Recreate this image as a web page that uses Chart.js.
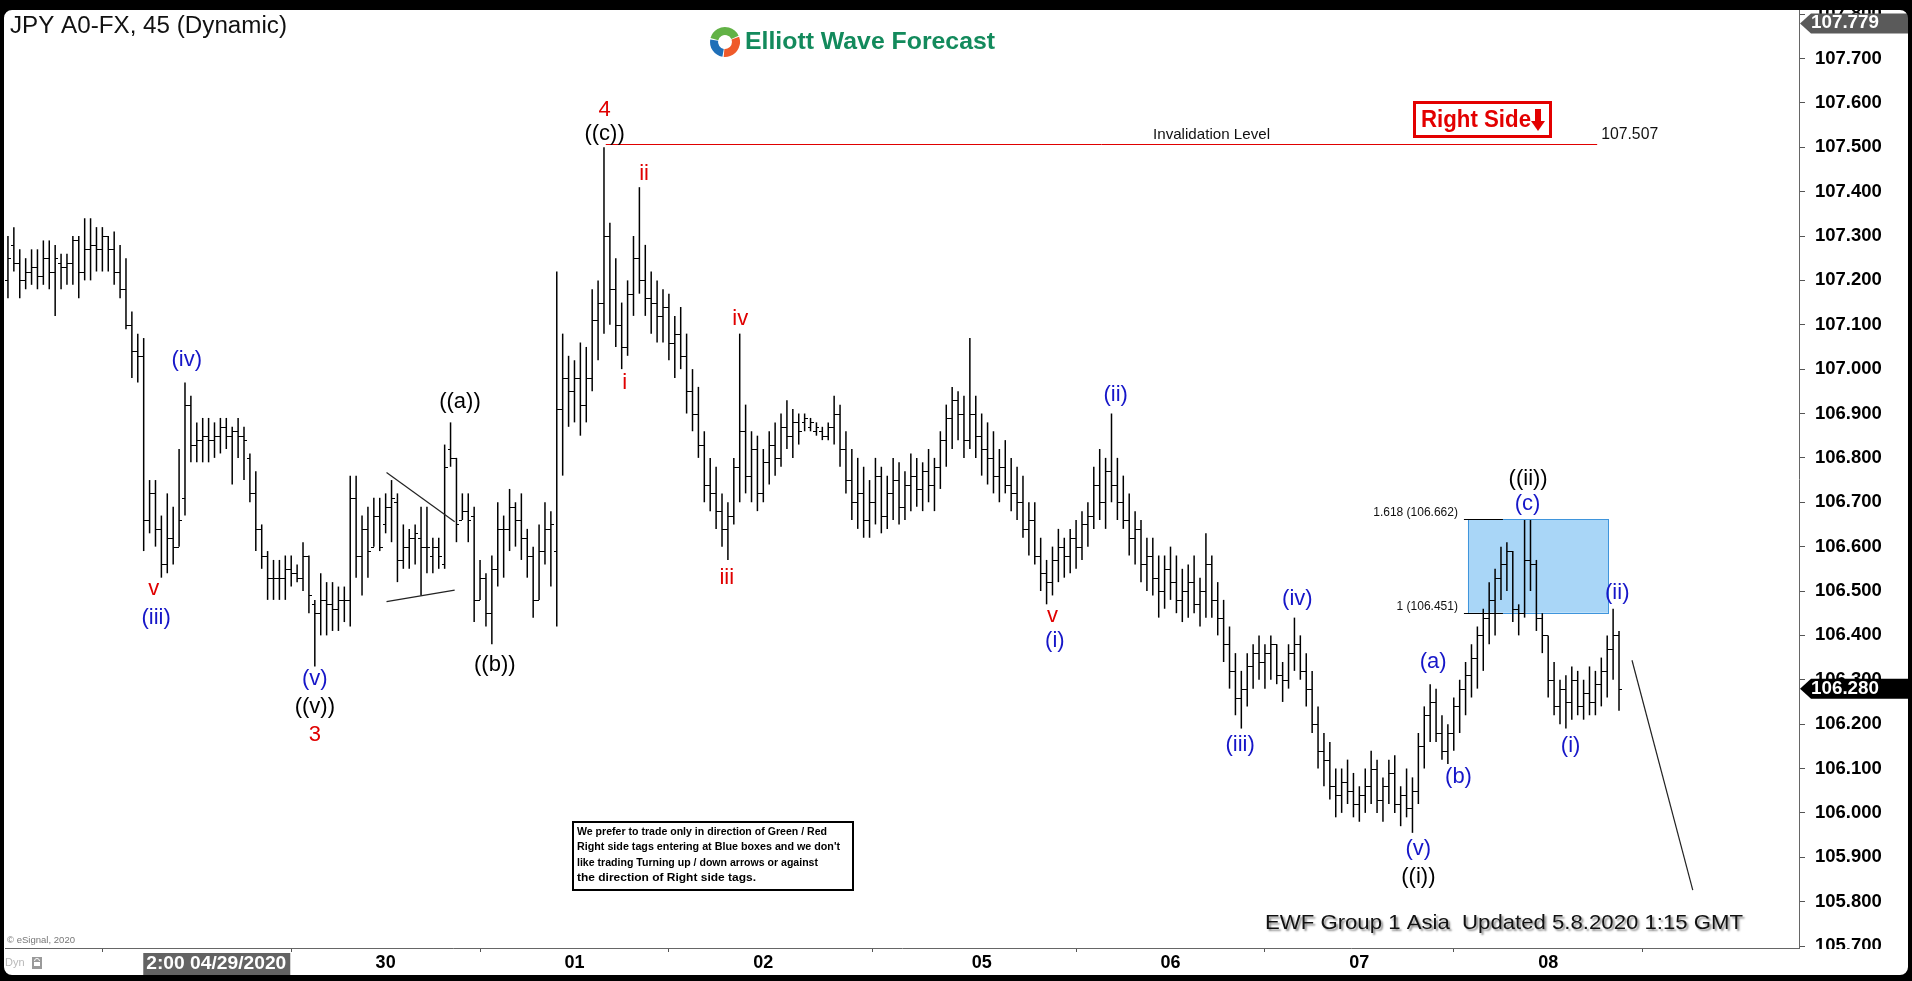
<!DOCTYPE html>
<html>
<head>
<meta charset="utf-8">
<script src="https://cdn.jsdelivr.net/npm/chart.js@4.4.1/dist/chart.umd.min.js"></script>
<style>
html,body{margin:0;padding:0;background:#000;overflow:hidden;}
canvas{display:block;}
</style>
</head>
<body>
<canvas id="c" width="1912" height="981" style="width:1912px;height:981px"></canvas>
<script>
// ---------------- DATA ----------------
const opens = [
107.20,107.28,107.24,107.20,107.22,107.23,107.21,107.25,107.22,107.24,
107.23,107.24,107.29,107.22,107.27,107.28,107.27,107.30,107.27,107.22,
107.18,107.10,107.04,107.03,106.66,106.72,106.64,106.56,106.62,106.60,
106.71,106.92,106.83,106.84,106.85,106.84,106.85,106.87,106.85,106.86,
106.85,106.80,106.72,106.64,106.58,106.53,106.53,106.53,106.55,106.54,
106.53,106.58,106.47,106.45,106.48,106.47,106.46,106.48,106.48,106.71,
106.58,106.64,106.60,106.67,106.65,106.69,106.70,106.57,106.60,106.62,
106.62,106.60,106.58,106.60,106.56,106.82,106.80,106.66,106.68,106.67,
106.48,106.53,106.45,106.55,106.64,106.64,106.69,106.66,106.62,106.58,
106.48,106.59,106.64,106.59,106.91,106.98,106.95,106.98,106.92,106.98,
107.11,107.15,107.30,107.18,107.10,107.05,107.17,107.25,107.20,107.16,
107.15,107.12,107.14,107.06,107.08,107.03,106.95,106.90,106.83,106.74,
106.72,106.68,106.64,106.67,106.78,106.86,106.76,106.82,106.72,106.79,
106.83,106.80,106.87,106.85,106.88,106.88,106.87,106.86,106.86,106.85,
106.87,106.90,106.82,106.75,106.70,106.72,106.66,106.70,106.76,106.67,
106.72,106.75,106.69,106.74,106.76,106.73,106.77,106.74,106.78,106.84,
106.89,106.93,106.90,106.84,106.90,106.85,106.82,106.80,106.76,106.78,
106.74,106.72,106.70,106.64,106.66,106.58,106.54,106.52,106.57,106.60,
106.58,106.62,106.60,106.65,106.67,106.74,106.70,106.77,106.74,106.70,
106.66,106.62,106.64,106.56,106.58,106.53,106.50,106.55,106.52,106.48,
106.50,106.52,106.47,106.50,106.56,106.48,106.44,106.38,106.32,106.26,
106.28,106.33,106.36,106.34,106.36,106.38,106.31,106.30,106.36,106.38,
106.32,106.28,106.20,106.14,106.12,106.06,106.04,106.07,106.05,106.02,
106.04,106.06,106.10,106.03,106.06,106.09,106.02,106.04,106.01,106.05,
106.15,106.22,106.25,106.18,106.14,106.18,106.24,106.28,106.31,106.35,
106.40,106.44,106.48,106.53,106.56,106.59,106.46,106.45,106.57,106.56,
106.44,106.40,106.30,106.24,106.28,106.25,106.30,106.24,106.27,106.25,
106.29,106.32,106.37,106.40];
const highs = [
107.30,107.32,107.27,107.25,107.27,107.27,107.29,107.29,107.28,107.26,
107.26,107.30,107.30,107.34,107.34,107.32,107.32,107.30,107.31,107.28,
107.25,107.13,107.08,107.07,106.75,106.75,106.67,106.72,106.69,106.82,
106.97,106.94,106.88,106.89,106.89,106.88,106.89,106.89,106.87,106.89,
106.87,106.81,106.77,106.65,106.59,106.57,106.57,106.58,106.58,106.56,
106.61,106.58,106.48,106.54,106.52,106.52,106.51,106.51,106.76,106.76,
106.67,106.69,106.71,106.71,106.72,106.75,106.72,106.65,106.64,106.65,
106.69,106.69,106.62,106.62,106.83,106.88,106.80,106.72,106.72,106.69,
106.57,106.54,106.58,106.70,106.67,106.73,106.70,106.72,106.64,106.60,
106.65,106.70,106.68,107.22,107.08,107.03,107.02,107.06,107.05,107.18,
107.20,107.50,107.33,107.25,107.15,107.20,107.30,107.41,107.28,107.22,
107.20,107.18,107.17,107.12,107.14,107.08,107.00,106.96,106.86,106.80,
106.78,106.72,106.70,106.80,107.08,106.92,106.86,106.85,106.82,106.86,
106.88,106.90,106.93,106.91,106.90,106.90,106.89,106.88,106.87,106.88,
106.94,106.92,106.86,106.82,106.80,106.78,106.75,106.80,106.78,106.76,
106.80,106.79,106.77,106.81,106.80,106.79,106.82,106.80,106.86,106.92,
106.96,106.95,106.94,107.07,106.94,106.90,106.88,106.86,106.82,106.84,
106.80,106.78,106.76,106.70,106.70,106.62,106.57,106.60,106.64,106.62,
106.64,106.66,106.68,106.70,106.78,106.82,106.80,106.90,106.80,106.76,
106.72,106.68,106.66,106.62,106.62,106.58,106.58,106.60,106.58,106.55,
106.56,106.58,106.53,106.63,106.58,106.52,106.48,106.42,106.36,106.32,
106.36,106.38,106.40,106.38,106.40,106.38,106.34,106.38,106.44,106.40,
106.36,106.32,106.24,106.18,106.16,106.10,106.10,106.12,106.09,106.06,
106.10,106.14,106.12,106.08,106.12,106.13,106.06,106.10,106.08,106.18,
106.24,106.29,106.28,106.22,106.20,106.26,106.30,106.34,106.38,106.42,
106.46,106.52,106.55,106.60,106.61,106.59,106.47,106.66,106.66,106.57,
106.45,106.40,106.34,106.30,106.31,106.33,106.32,106.30,106.33,106.32,
106.35,106.40,106.46,106.41];
const lows = [
107.16,107.22,107.16,107.18,107.19,107.18,107.19,107.18,107.12,107.18,
107.19,107.19,107.16,107.20,107.20,107.22,107.22,107.22,107.19,107.16,
107.09,106.98,106.97,106.59,106.63,106.60,106.53,106.54,106.56,106.60,
106.67,106.79,106.79,106.79,106.79,106.80,106.81,106.82,106.74,106.80,
106.75,106.70,106.59,106.55,106.48,106.48,106.48,106.48,106.51,106.52,
106.50,106.45,106.33,106.40,106.40,106.41,106.41,106.43,106.42,106.53,
106.49,106.53,106.60,106.59,106.63,106.61,106.52,106.55,106.55,106.56,
106.49,106.54,106.54,106.55,106.55,106.78,106.61,106.66,106.61,106.43,
106.48,106.42,106.38,106.51,106.53,106.59,106.60,106.57,106.53,106.44,
106.48,106.56,106.51,106.42,106.76,106.87,106.88,106.85,106.88,106.95,
107.02,107.08,107.10,107.05,107.00,107.03,107.12,107.17,107.12,107.08,
107.06,107.06,107.02,106.98,107.00,106.90,106.86,106.80,106.70,106.68,
106.64,106.60,106.57,106.65,106.70,106.72,106.70,106.68,106.70,106.74,
106.76,106.78,106.82,106.80,106.83,106.86,106.86,106.85,106.84,106.84,
106.83,106.78,106.72,106.66,106.64,106.62,106.62,106.65,106.63,106.64,
106.66,106.65,106.66,106.68,106.69,106.68,106.70,106.68,106.73,106.78,
106.82,106.84,106.80,106.82,106.80,106.76,106.74,106.72,106.70,106.72,
106.68,106.66,106.62,106.58,106.56,106.50,106.47,106.49,106.52,106.53,
106.54,106.55,106.57,106.60,106.64,106.66,106.64,106.70,106.66,106.64,
106.58,106.56,106.52,106.50,106.49,106.44,106.46,106.48,106.45,106.43,
106.44,106.45,106.42,106.44,106.44,106.40,106.34,106.28,106.22,106.19,
106.24,106.28,106.30,106.28,106.30,106.29,106.25,106.28,106.32,106.30,
106.24,106.18,106.10,106.06,106.03,105.99,106.00,106.02,105.99,105.98,
106.00,106.02,106.00,105.98,106.02,106.00,105.97,105.99,105.955,106.02,
106.10,106.16,106.16,106.12,106.11,106.14,106.18,106.22,106.26,106.28,
106.32,106.38,106.40,106.48,106.50,106.43,106.40,106.44,106.50,106.41,
106.36,106.26,106.22,106.20,106.19,106.21,106.22,106.21,106.22,106.22,
106.24,106.26,106.30,106.23];
const closes = [
107.25,107.24,107.20,107.22,107.23,107.21,107.25,107.22,107.25,107.23,
107.24,107.29,107.22,107.27,107.28,107.27,107.30,107.27,107.22,107.18,
107.10,107.04,107.03,106.66,106.72,106.64,106.56,106.62,106.60,106.66,
106.92,106.83,106.84,106.85,106.84,106.85,106.87,106.85,106.86,106.85,
106.84,106.72,106.64,106.58,106.53,106.53,106.53,106.55,106.54,106.53,
106.58,106.49,106.45,106.48,106.47,106.46,106.48,106.48,106.71,106.58,
106.64,106.59,106.67,106.60,106.69,106.71,106.57,106.60,106.62,106.63,
106.60,106.60,106.60,106.58,106.78,106.80,106.65,106.68,106.66,106.48,
106.53,106.45,106.55,106.64,106.64,106.69,106.66,106.62,106.58,106.48,
106.59,106.64,106.65,106.91,106.98,106.95,106.98,106.92,106.98,107.11,
107.15,107.30,107.18,107.10,107.05,107.17,107.25,107.20,107.16,107.15,
107.12,107.14,107.06,107.08,107.03,106.95,106.90,106.83,106.74,106.72,
106.68,106.64,106.67,106.78,106.86,106.76,106.82,106.72,106.79,106.83,
106.80,106.87,106.85,106.88,106.86,106.89,106.88,106.87,106.85,106.87,
106.90,106.82,106.75,106.70,106.72,106.66,106.70,106.76,106.67,106.72,
106.75,106.69,106.74,106.76,106.73,106.77,106.74,106.78,106.84,106.89,
106.93,106.90,106.84,106.90,106.85,106.82,106.80,106.76,106.78,106.74,
106.72,106.70,106.64,106.66,106.58,106.54,106.52,106.57,106.60,106.58,
106.62,106.60,106.65,106.67,106.74,106.70,106.77,106.74,106.70,106.66,
106.62,106.64,106.56,106.58,106.53,106.50,106.55,106.52,106.48,106.50,
106.52,106.47,106.50,106.56,106.48,106.44,106.38,106.32,106.26,106.28,
106.33,106.36,106.34,106.36,106.38,106.31,106.30,106.36,106.38,106.32,
106.28,106.20,106.14,106.12,106.06,106.04,106.07,106.05,106.02,106.04,
106.06,106.10,106.03,106.06,106.09,106.02,106.04,106.01,106.05,106.15,
106.22,106.25,106.18,106.14,106.18,106.24,106.28,106.31,106.35,106.40,
106.44,106.48,106.53,106.56,106.59,106.46,106.45,106.57,106.56,106.44,
106.40,106.30,106.24,106.28,106.25,106.30,106.24,106.27,106.25,106.29,
106.32,106.37,106.40,106.28];

// time axis: 45-minute slots (bars + empty future space)
const slotCount = 304;
const dayLabels   = ['29','30','01','02','05','06','07','08'];
const dayStartIdx = [32, 64, 96, 128, 165, 197, 229, 261];
const cursorLabel = '2:00 04/29/2020';
const cursorIdx = 35.3;

// price axis
const priceTickLabels = ['105.700','105.800','105.900','106.000','106.100','106.200','106.300',
  '106.400','106.500','106.600','106.700','106.800','106.900','107.000','107.100','107.200',
  '107.300','107.400','107.500','107.600','107.700','107.800'];
const yMin = 105.6955, yMax = 107.8093;
const highTag = 107.779;

// Elliott wave labels: text, bar index, price, colour key
const waveText  = ['v','(iii)','(iv)','(v)','((v))','3','((a))','((b))','4','((c))','ii','i','iv','iii',
  'v','(i)','(ii)','(iv)','(iii)','(v)','((i))','(a)','(b)','((ii))','(c)','(i)','(ii)'];
const waveIdx   = [24.7,25.1,30.3,52,52,52,76.6,82.5,101.1,101.1,107.8,104.5,124.1,121.8,
  177,177.4,187.7,218.5,208.8,239,239,241.5,245.8,257.6,257.5,264.8,272.7];
const wavePrice = [106.505,106.439,107.021,106.302,106.239,106.176,106.926,106.334,107.584,107.530,
  107.440,106.969,107.112,106.529,106.444,106.387,106.942,106.482,106.153,105.919,105.856,
  106.340,106.081,106.752,106.696,106.151,106.496];
const waveColorKey = ['r','b','b','b','k','r','k','k','r','k','r','r','r','r',
  'r','b','b','b','b','b','k','b','b','k','b','b','b'];

// triangle (((a)) area) lines  [idx0, price0, idx1, price1]
const triangleUpper = [64.15, 106.767, 75.7, 106.656];
const triangleLower = [64.15, 106.476, 75.7, 106.502];
// projection line
const projection = [275.2, 106.344, 285.5, 105.826];
// invalidation
const invalidation = 107.507;
const invalidationSpan = [101.3, 269.3];
// fib blue box
const fibLevels = [106.451, 106.662];
const fibLabels = ['1 (106.451)', '1.618 (106.662)'];
const fibSpan = [247.4, 271.2];

const titleText = 'JPY A0-FX, 45 (Dynamic)';
const logoText = 'Elliott Wave Forecast';
const footerText = 'EWF Group 1 Asia  Updated 5.8.2020 1:15 GMT';
const noteLines = ['We prefer to trade only in direction of Green / Red',
  'Right side tags entering at Blue boxes and we don\'t',
  'like trading Turning up / down arrows or against',
  'the direction of Right side tags.'];

// ---------------- STYLE ----------------
const SANS = '"Liberation Sans", Arial, Helvetica, sans-serif';
const waveColors = {r:'#e00000', b:'#1616c8', k:'#000000'};

function txt(c, s, x, y, font, color, align, width) {
  c.save();
  c.font = font; c.fillStyle = color; c.textBaseline = 'middle';
  c.textAlign = align || 'left';
  const w = c.measureText(s).width;
  const sx = width ? width / w : 1;
  c.translate(x, y); c.scale(sx, 1);
  c.fillText(s, 0, 0);
  c.restore();
}

const slotLabels = Array.from({length: slotCount}, (_, i) => {
  const k = dayStartIdx.indexOf(i); return k >= 0 ? dayLabels[k] : '';
});

const decor = {
  id: 'decor',
  beforeDraw(chart) {
    const c = chart.ctx;
    c.save(); c.fillStyle = '#fff'; c.fillRect(0, 0, chart.width, chart.height); c.restore();
  },
  beforeDatasetsDraw(chart) {
    const c = chart.ctx, xs = chart.scales.x, ys = chart.scales.y;
    const x0 = xs.getPixelForValue(fibSpan[0]), x1 = xs.getPixelForValue(fibSpan[1]);
    const yT = ys.getPixelForValue(fibLevels[1]), yB = ys.getPixelForValue(fibLevels[0]);
    c.save();
    c.fillStyle = '#a9d6f7';
    c.fillRect(x0, yT, x1 - x0, yB - yT);
    c.strokeStyle = '#3f95dc'; c.lineWidth = 1;
    c.strokeRect(Math.round(x0) + 0.5, Math.round(yT) + 0.5, Math.round(x1 - x0), Math.round(yB - yT));
    c.restore();
  },
  afterDatasetsDraw(chart) {
    const c = chart.ctx, xs = chart.scales.x, ys = chart.scales.y;
    c.save();
    // open / close ticks
    c.strokeStyle = '#000'; c.lineWidth = 1; c.beginPath();
    for (let i = 0; i < opens.length; i++) {
      const x = Math.round(xs.getPixelForValue(i));
      const yo = Math.round(ys.getPixelForValue(opens[i])) + 0.5;
      const yc = Math.round(ys.getPixelForValue(closes[i])) + 0.5;
      c.moveTo(x - 3, yo); c.lineTo(x, yo);
      c.moveTo(x, yc); c.lineTo(x + 3, yc);
    }
    c.stroke();

    // fib lines + labels
    const bx = xs.getPixelForValue(fibSpan[0]);
    c.beginPath();
    fibLevels.forEach(v => {
      const y = Math.round(ys.getPixelForValue(v)) + 0.5;
      c.moveTo(bx - 4, y); c.lineTo(bx + 35, y);
    });
    c.stroke();
    fibLevels.forEach((v, k) => {
      const y = ys.getPixelForValue(v);
      txt(c, fibLabels[k], bx - 10, y - 6, '12px ' + SANS, '#111', 'right');
    });

    // invalidation line
    const iy = Math.round(ys.getPixelForValue(invalidation)) + 0.5;
    const ix0 = xs.getPixelForValue(invalidationSpan[0]), ix1 = xs.getPixelForValue(invalidationSpan[1]);
    c.strokeStyle = '#e00000'; c.beginPath(); c.moveTo(ix0, iy); c.lineTo(ix1, iy); c.stroke();
    txt(c, 'Invalidation Level', 1153, iy - 10, '15px ' + SANS, '#111', 'left', 117);
    txt(c, invalidation.toFixed(3), ix1 + 4, iy - 10, '16px ' + SANS, '#111', 'left', 57);

    // triangle + projection lines
    c.strokeStyle = '#222'; c.lineWidth = 1.2;
    [triangleUpper, triangleLower, projection].forEach(L => {
      c.beginPath();
      c.moveTo(xs.getPixelForValue(L[0]), ys.getPixelForValue(L[1]));
      c.lineTo(xs.getPixelForValue(L[2]), ys.getPixelForValue(L[3]));
      c.stroke();
    });

    // wave labels
    waveText.forEach((t, k) => {
      txt(c, t, xs.getPixelForValue(waveIdx[k]), ys.getPixelForValue(wavePrice[k]),
        '22px ' + SANS, waveColors[waveColorKey[k]], 'center');
    });
    c.restore();
  },
  afterDraw(chart) {
    const c = chart.ctx, xs = chart.scales.x, ys = chart.scales.y;
    c.save();
    // title
    txt(c, titleText, 10, 27, '23px ' + SANS, '#111', 'left', 277);
    // logo
    const lx = 725, ly = 42;
    c.lineWidth = 8; c.lineCap = 'butt';
    const arc = (a0, a1, col) => { c.strokeStyle = col; c.beginPath(); c.arc(lx, ly, 11, a0 * Math.PI / 180, a1 * Math.PI / 180); c.stroke(); };
    arc(195, 335, '#62b246');
    arc(340, 95, '#ef5a2a');
    arc(100, 190, '#1f6fb8');
    txt(c, logoText, 745, 42, 'bold 24px ' + SANS, '#138a5c', 'left', 250);

    // Right side tag
    c.fillStyle = '#fff'; c.fillRect(1413, 101, 139, 37);
    c.strokeStyle = '#e30000'; c.lineWidth = 3; c.strokeRect(1414.5, 102.5, 136, 34);
    txt(c, 'Right Side', 1421, 120, 'bold 24px ' + SANS, '#e30000', 'left', 110);
    c.fillStyle = '#e30000';
    c.fillRect(1535, 109, 6, 13);
    c.beginPath(); c.moveTo(1531, 121); c.lineTo(1545, 121); c.lineTo(1538, 131); c.closePath(); c.fill();

    // note box
    c.fillStyle = '#fff'; c.fillRect(572, 821, 282, 70);
    c.strokeStyle = '#000'; c.lineWidth = 2; c.strokeRect(573, 822, 280, 68);
    const noteW = [250, 263, 241, 179];
    noteLines.forEach((s, k) => txt(c, s, 577, 832 + k * 15.4, 'bold 11px ' + SANS, '#000', 'left', noteW[k]));

    // footer
    c.save();
    c.shadowColor = 'rgba(0,0,0,0.45)'; c.shadowOffsetX = 2; c.shadowOffsetY = 2; c.shadowBlur = 2;
    txt(c, footerText, 1265, 923, '21px ' + SANS, '#111', 'left', 478);
    c.restore();

    // clip area below plot on right
    c.fillStyle = '#fff'; c.fillRect(1800, 949, 110, 30);

    // price tags
    const tag = (v, bg) => {
      const y = ys.getPixelForValue(v);
      c.fillStyle = bg; c.beginPath();
      c.moveTo(1800, y); c.lineTo(1811, y - 10); c.lineTo(1908, y - 10); c.lineTo(1908, y + 10); c.lineTo(1811, y + 10);
      c.closePath(); c.fill();
      txt(c, v.toFixed(3), 1811, y, 'bold 18px ' + SANS, '#fff', 'left', 68);
    };
    tag(highTag, '#5a5a5a');
    tag(closes[closes.length - 1], '#000');

    // cursor date label
    const cx = xs.getPixelForValue(cursorIdx);
    c.fillStyle = '#636363'; c.fillRect(cx - 73, 953, 147, 22);
    txt(c, cursorLabel, cx, 964, 'bold 18px ' + SANS, '#fff', 'center', 140);

    // Dyn + lock, copyright
    txt(c, 'Dyn', 5, 963, '11px ' + SANS, '#b8b8b8', 'left');
    c.fillStyle = '#9a9a9a'; c.fillRect(32, 957, 10, 12);
    c.strokeStyle = '#fff'; c.lineWidth = 1; c.beginPath(); c.arc(37, 961, 2.5, Math.PI, 0); c.stroke();
    c.fillStyle = '#fff'; c.fillRect(34, 962, 6, 4);
    txt(c, '\u00A9 eSignal, 2020', 7, 941, '9px ' + SANS, '#777', 'left', 68);

    // outer frame
    c.fillStyle = '#000';
    c.beginPath();
    c.rect(0, 0, chart.width, chart.height);
    c.roundRect(4, 10, 1904, 965, 8);
    c.fill('evenodd');
    c.restore();
  }
};

new Chart(document.getElementById('c').getContext('2d'), {
  type: 'bar',
  data: {
    labels: slotLabels,
    datasets: [{
      data: highs.map((h, i) => [lows[i], h]),
      backgroundColor: '#000',
      borderWidth: 0,
      barThickness: 1.5,
      inflateAmount: 0,
      grouped: false
    }]
  },
  options: {
    responsive: false,
    animation: false,
    devicePixelRatio: 1,
    layout: {padding: {left: 5, top: 10, right: 0, bottom: 0}},
    plugins: {legend: {display: false}, tooltip: {enabled: false}, title: {display: false}},
    scales: {
      x: {
        offset: true,
        grid: {drawOnChartArea: false, drawTicks: true, tickLength: 4, color: '#555'},
        border: {display: true, color: '#666'},
        ticks: {autoSkip: false, maxRotation: 0, minRotation: 0, padding: 0, color: '#000',
          font: {family: SANS, size: 18, weight: 'bold'},
          callback: (v, i) => dayLabels[i]},
        afterBuildTicks: s => { s.ticks = dayStartIdx.map(v => ({value: v})); },
        afterFit: s => { s.height = 33; s.paddingLeft = 0; s.paddingRight = 0; }
      },
      y: {
        position: 'right',
        min: yMin, max: yMax,
        grid: {drawOnChartArea: false, drawTicks: true, tickLength: 6, color: '#555'},
        border: {display: true, color: '#666'},
        ticks: {padding: 10, color: '#000', font: {family: SANS, size: 18.5, weight: 'bold'},
          callback: (v, i) => priceTickLabels[i]},
        afterBuildTicks: s => { s.ticks = priceTickLabels.map(t => ({value: parseFloat(t)})); },
        afterFit: s => { s.width = 113; s.paddingTop = 0; s.paddingBottom = 0; }
      }
    }
  },
  plugins: [decor]
});
</script>
</body>
</html>
